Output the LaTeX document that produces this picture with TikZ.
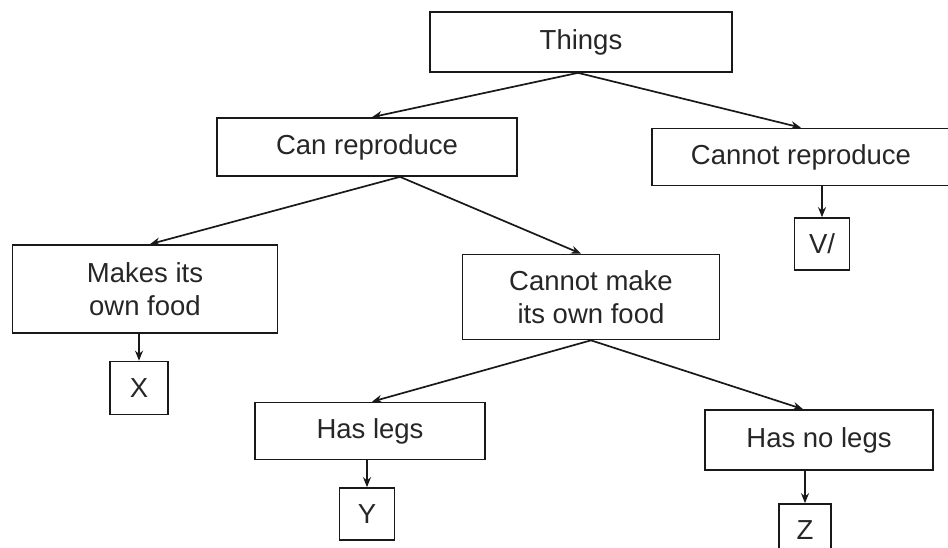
\documentclass[tikz,border=0pt]{standalone}
\usepackage{fontspec}
\setmainfont{Liberation Sans}
\usetikzlibrary{arrows.meta}
\begin{document}
\begin{tikzpicture}[x=1pt,y=-1pt,
  box/.style={draw=black!90,line width=1.7pt,inner sep=0pt,align=center,
    font=\fontsize{27.5}{33}\selectfont,text=black!85},
  conn/.style={draw=black!90,line width=1.7pt,-{Stealth[length=10pt,width=8pt]}}]
\useasboundingbox (0,0) rectangle (948,548);
\node[box,minimum width=302pt,minimum height=60pt] (things) at (581,42) {Things};
\node[box,minimum width=300pt,minimum height=58pt] (canrep) at (367,147) {Can reproduce};
\node[box,minimum width=298pt,minimum height=57pt] (cannotrep) at (801,157) {Cannot reproduce};
\node[box,minimum width=55pt,minimum height=52pt] (vbox) at (822,244) {V/};
\node[box,minimum width=265pt,minimum height=88pt] (makes) at (145,289) {Makes its\\own food};
\node[box,minimum width=257pt,minimum height=85pt] (cannotmake) at (591,297) {Cannot make\\its own food};
\node[box,minimum width=58pt,minimum height=53pt] (xbox) at (139,388) {X};
\node[box,minimum width=230pt,minimum height=57pt] (haslegs) at (370,431) {Has legs};
\node[box,minimum width=228pt,minimum height=60pt] (hasnolegs) at (819,440) {Has no legs};
\node[box,minimum width=55pt,minimum height=52pt] (ybox) at (367,514) {Y};
\node[box,minimum width=52pt,minimum height=52pt] (zbox) at (805,530) {Z};
\draw[conn] ([xshift=-3pt]things.south) -- ([xshift=5pt]canrep.north);
\draw[conn] ([xshift=-3pt]things.south) -- (cannotrep.north);
\draw[conn] ([xshift=33pt]canrep.south) -- ([xshift=5pt]makes.north);
\draw[conn] ([xshift=33pt]canrep.south) -- ([xshift=-10pt]cannotmake.north);
\draw[conn] (cannotmake.south) -- ([xshift=2pt]haslegs.north);
\draw[conn] (cannotmake.south) -- ([xshift=-16pt]hasnolegs.north);
\draw[conn] (vbox.north |- cannotrep.south) -- (vbox.north);
\draw[conn] (xbox.north |- makes.south) -- (xbox.north);
\draw[conn] (ybox.north |- haslegs.south) -- (ybox.north);
\draw[conn] (zbox.north |- hasnolegs.south) -- (zbox.north);
\end{tikzpicture}
\end{document}
